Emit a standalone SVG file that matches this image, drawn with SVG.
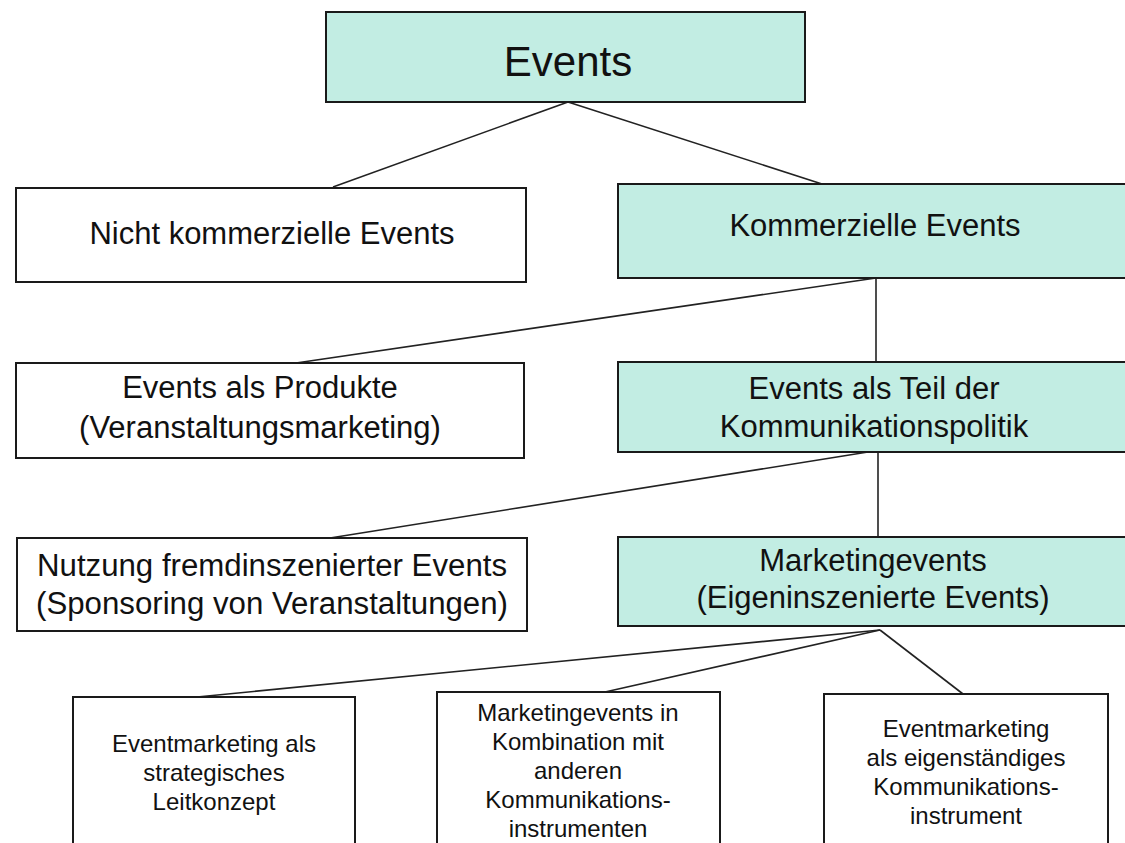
<svg xmlns="http://www.w3.org/2000/svg" width="1125" height="843" viewBox="0 0 1125 843">
<style>
.box{stroke:#1a1a1a;stroke-width:2}
.w{fill:#ffffff}
.c{fill:#c2ede3}
.t{font-family:"Liberation Sans",Arial,sans-serif;fill:#111;text-anchor:middle}
.m{font-size:31px}
.s{font-size:24px}
.l{stroke:#222;stroke-width:1.6;fill:none}
</style>
<rect width="1125" height="843" fill="#ffffff"/>
<g id="connectors">
<line class="l" x1="568" y1="102" x2="333" y2="187"/>
<line class="l" x1="568" y1="102" x2="822" y2="184"/>
<line class="l" x1="876" y1="278" x2="296" y2="363"/>
<line class="l" x1="876" y1="278" x2="876" y2="362"/>
<line class="l" x1="868" y1="452" x2="330" y2="538"/>
<line class="l" x1="878" y1="452" x2="878" y2="537"/>
<line class="l" x1="880" y1="630" x2="197" y2="697"/>
<line class="l" x1="880" y1="630" x2="605" y2="692"/>
<line class="l" x1="880" y1="630" x2="963" y2="694"/>
</g>
<g id="n-events">
<rect class="box c" x="326" y="12" width="479" height="90"/>
<text class="t" x="568" y="76" font-size="42">Events</text>
</g>
<g id="n-nicht">
<rect class="box w" x="16" y="188" width="510" height="94"/>
<text class="t m" x="272" y="244">Nicht kommerzielle Events</text>
</g>
<g id="n-kommerziell">
<rect class="box c" x="618" y="184" width="520" height="94"/>
<text class="t m" x="875" y="236">Kommerzielle Events</text>
</g>
<g id="n-produkte">
<rect class="box w" x="16" y="363" width="508" height="95"/>
<text class="t m" x="260" y="398">Events als Produkte</text>
<text class="t m" x="260" y="438">(Veranstaltungsmarketing)</text>
</g>
<g id="n-teil">
<rect class="box c" x="618" y="362" width="520" height="90"/>
<text class="t m" x="874" y="399">Events als Teil der</text>
<text class="t m" x="874" y="437">Kommunikationspolitik</text>
</g>
<g id="n-nutzung">
<rect class="box w" x="17" y="538" width="510" height="93"/>
<text class="t m" x="272" y="576" textLength="470" lengthAdjust="spacingAndGlyphs">Nutzung fremdinszenierter Events</text>
<text class="t m" x="272" y="614" textLength="472" lengthAdjust="spacingAndGlyphs">(Sponsoring von Veranstaltungen)</text>
</g>
<g id="n-marketingevents">
<rect class="box c" x="618" y="537" width="520" height="89"/>
<text class="t m" x="873" y="571">Marketingevents</text>
<text class="t m" x="873" y="608">(Eigeninszenierte Events)</text>
</g>
<g id="n-leitkonzept">
<rect class="box w" x="73" y="697" width="282" height="160"/>
<text class="t s" x="214" y="752">Eventmarketing als</text>
<text class="t s" x="214" y="781">strategisches</text>
<text class="t s" x="214" y="810">Leitkonzept</text>
</g>
<g id="n-kombination">
<rect class="box w" x="437" y="692" width="283" height="165"/>
<text class="t s" x="578" y="721">Marketingevents in</text>
<text class="t s" x="578" y="750">Kombination mit</text>
<text class="t s" x="578" y="779">anderen</text>
<text class="t s" x="578" y="808">Kommunikations-</text>
<text class="t s" x="578" y="837">instrumenten</text>
</g>
<g id="n-eigenstaendig">
<rect class="box w" x="824" y="694" width="284" height="163"/>
<text class="t s" x="966" y="737">Eventmarketing</text>
<text class="t s" x="966" y="766">als eigenständiges</text>
<text class="t s" x="966" y="795">Kommunikations-</text>
<text class="t s" x="966" y="824">instrument</text>
</g>
</svg>
